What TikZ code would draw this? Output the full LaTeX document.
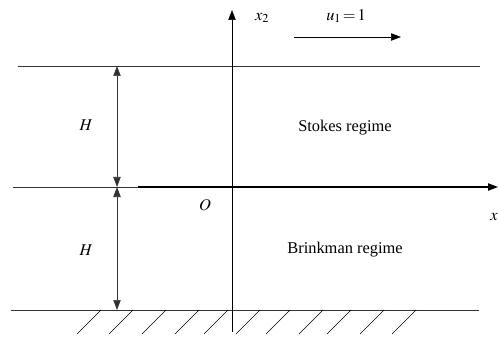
\documentclass[tikz,border=0pt]{standalone}
\usepackage{mathptmx}
\usepackage{fontspec}
\setmainfont{Liberation Serif}
\usepackage{tikz}
\usetikzlibrary{arrows.meta, positioning}

\begin{document}
\begin{tikzpicture}[
            x=0.03cm, y=-0.03cm,
            font=\fontsize{14}{16}\selectfont,
            >={Triangle[length=3mm, width=2.2mm]},
            wall/.style={line width=0.6pt, black!80},
            axis/.style={->, line width=0.6pt},
            xaxis/.style={->, line width=1pt},
            gap/.style={<->, line width=0.6pt, black!80},
            hatch/.style={line width=0.5pt},
            lbl/.style={inner sep=1pt}
        ]
            \useasboundingbox (0,0) rectangle (499,338);

            % walls
            \coordinate (topL) at (18,66);
            \coordinate (topR) at (480,66);
            \coordinate (midL) at (13,187);
            \coordinate (midR) at (480,187);
            \coordinate (botL) at (11,310);
            \coordinate (botR) at (479,310);
            \draw[wall] (topL) -- (topR);
            \draw[wall] (midL) -- (midR);
            \draw[wall] (botL) -- (botR);

            % axes
            \coordinate (ax0) at (232,332);
            \coordinate (ax1) at (232,10);
            \coordinate (xa0) at (138,187);
            \coordinate (xa1) at (498,187);
            \draw[axis] (ax0) -- (ax1);
            \draw[xaxis] (xa0) -- (xa1);

            \node[lbl] (x2) at (262,18) {$x_2$};
            \node[lbl] (x1) at (494,217) {$x$};
            \node[lbl] (O) at (205,205) {$O$};

            % lid velocity
            \node[lbl] (u1) at (346,16) {$u_1\!=\!1$};
            \coordinate (u0) at (294,37);
            \coordinate (uE) at (401,37);
            \draw[axis] (u0) -- (uE);

            % layer thickness
            \coordinate (h0) at (117,66);
            \coordinate (h1) at (117,187);
            \coordinate (h2) at (117,310);
            \draw[gap] (h0) -- (h1);
            \draw[gap] (h1) -- (h2);
            \node[lbl] (Htop) at (86,125) {$H$};
            \node[lbl] (Hbot) at (86,250) {$H$};

            \node (stokes) at (345,128) {Stokes regime};
            \node (brink) at (345,250) {Brinkman regime};

            % ground hatching
            \foreach \hx in {101,133,166,199,228,260,290,323,351,384,416}
                \draw[hatch] (\hx,310) -- ++(-24,24);
        \end{tikzpicture}
\end{document}
